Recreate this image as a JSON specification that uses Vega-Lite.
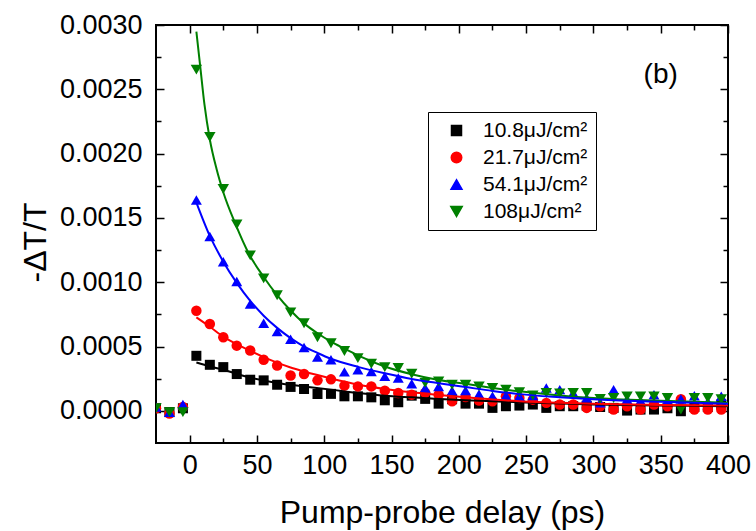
{
  "$schema": "https://vega.github.io/schema/vega-lite/v6.json",
  "width": 572,
  "height": 418,
  "autosize": {"type": "none"},
  "padding": {"left": 156, "top": 25, "right": 28, "bottom": 88},
  "background": "white",
  "config": {
    "view": {"stroke": "black", "strokeWidth": 2},
    "axis": {
      "domain": false,
      "grid": false,
      "tickColor": "black",
      "tickWidth": 1.5,
      "labelFont": "Liberation Sans",
      "labelFontSize": 27,
      "labelColor": "black",
      "labelOverlap": false,
      "labelFlush": false,
      "titleFont": "Liberation Sans",
      "titleFontSize": 32,
      "titleFontWeight": "normal",
      "titleColor": "black"
    },
    "legend": {
      "labelFont": "Liberation Sans",
      "labelFontSize": 21,
      "labelColor": "black"
    }
  },
  "datasets": {
    "pts": [
      {"s": "10.8μJ/cm²", "t": -25, "v": 0.00002}, {"s": "10.8μJ/cm²", "t": -15, "v": -0.00001}, {"s": "10.8μJ/cm²", "t": -5, "v": 0.00002},
      {"s": "10.8μJ/cm²", "t": 5, "v": 0.000428}, {"s": "10.8μJ/cm²", "t": 15, "v": 0.000358}, {"s": "10.8μJ/cm²", "t": 25, "v": 0.00034}, {"s": "10.8μJ/cm²", "t": 35, "v": 0.000286}, {"s": "10.8μJ/cm²", "t": 45, "v": 0.000242}, {"s": "10.8μJ/cm²", "t": 55, "v": 0.000237}, {"s": "10.8μJ/cm²", "t": 65, "v": 0.000203}, {"s": "10.8μJ/cm²", "t": 75, "v": 0.000186}, {"s": "10.8μJ/cm²", "t": 85, "v": 0.00017}, {"s": "10.8μJ/cm²", "t": 95, "v": 0.000131}, {"s": "10.8μJ/cm²", "t": 105, "v": 0.000132}, {"s": "10.8μJ/cm²", "t": 115, "v": 0.000113}, {"s": "10.8μJ/cm²", "t": 125, "v": 0.000113}, {"s": "10.8μJ/cm²", "t": 135, "v": 0.000105}, {"s": "10.8μJ/cm²", "t": 145, "v": 0.000082}, {"s": "10.8μJ/cm²", "t": 155, "v": 0.000067}, {"s": "10.8μJ/cm²", "t": 165, "v": 0.000118}, {"s": "10.8μJ/cm²", "t": 175, "v": 0.000093}, {"s": "10.8μJ/cm²", "t": 185, "v": 0.000056}, {"s": "10.8μJ/cm²", "t": 195, "v": 0.00009}, {"s": "10.8μJ/cm²", "t": 205, "v": 0.000056}, {"s": "10.8μJ/cm²", "t": 215, "v": 0.000056}, {"s": "10.8μJ/cm²", "t": 225, "v": 0.000023}, {"s": "10.8μJ/cm²", "t": 235, "v": 0.000036}, {"s": "10.8μJ/cm²", "t": 245, "v": 0.000041}, {"s": "10.8μJ/cm²", "t": 255, "v": 0.000049}, {"s": "10.8μJ/cm²", "t": 265, "v": 0.000023}, {"s": "10.8μJ/cm²", "t": 275, "v": 0.000036}, {"s": "10.8μJ/cm²", "t": 285, "v": 0.000036}, {"s": "10.8μJ/cm²", "t": 295, "v": 0.00004}, {"s": "10.8μJ/cm²", "t": 305, "v": 0.00003}, {"s": "10.8μJ/cm²", "t": 315, "v": 0.000023}, {"s": "10.8μJ/cm²", "t": 325, "v": 0.000002}, {"s": "10.8μJ/cm²", "t": 335, "v": 0.00001}, {"s": "10.8μJ/cm²", "t": 345, "v": 0.00001}, {"s": "10.8μJ/cm²", "t": 355, "v": 0.00002}, {"s": "10.8μJ/cm²", "t": 365, "v": -0.000003}, {"s": "10.8μJ/cm²", "t": 375, "v": 0.00003}, {"s": "10.8μJ/cm²", "t": 385, "v": 0.00003}, {"s": "10.8μJ/cm²", "t": 395, "v": 0.00005},

      {"s": "21.7μJ/cm²", "t": -25, "v": 0.00002}, {"s": "21.7μJ/cm²", "t": -15, "v": -0.00002}, {"s": "21.7μJ/cm²", "t": -5, "v": 0.00003},
      {"s": "21.7μJ/cm²", "t": 5, "v": 0.000778}, {"s": "21.7μJ/cm²", "t": 15, "v": 0.000675}, {"s": "21.7μJ/cm²", "t": 25, "v": 0.000572}, {"s": "21.7μJ/cm²", "t": 35, "v": 0.000507}, {"s": "21.7μJ/cm²", "t": 45, "v": 0.000469}, {"s": "21.7μJ/cm²", "t": 55, "v": 0.000397}, {"s": "21.7μJ/cm²", "t": 65, "v": 0.000353}, {"s": "21.7μJ/cm²", "t": 75, "v": 0.000275}, {"s": "21.7μJ/cm²", "t": 85, "v": 0.000286}, {"s": "21.7μJ/cm²", "t": 95, "v": 0.000237}, {"s": "21.7μJ/cm²", "t": 105, "v": 0.000245}, {"s": "21.7μJ/cm²", "t": 115, "v": 0.000196}, {"s": "21.7μJ/cm²", "t": 125, "v": 0.00019}, {"s": "21.7μJ/cm²", "t": 135, "v": 0.00019}, {"s": "21.7μJ/cm²", "t": 145, "v": 0.000157}, {"s": "21.7μJ/cm²", "t": 155, "v": 0.000139}, {"s": "21.7μJ/cm²", "t": 165, "v": 0.000126}, {"s": "21.7μJ/cm²", "t": 175, "v": 0.00014}, {"s": "21.7μJ/cm²", "t": 185, "v": 0.000126}, {"s": "21.7μJ/cm²", "t": 195, "v": 0.000074}, {"s": "21.7μJ/cm²", "t": 205, "v": 0.000108}, {"s": "21.7μJ/cm²", "t": 215, "v": 0.00008}, {"s": "21.7μJ/cm²", "t": 225, "v": 0.000074}, {"s": "21.7μJ/cm²", "t": 235, "v": 0.000113}, {"s": "21.7μJ/cm²", "t": 245, "v": 0.0001}, {"s": "21.7μJ/cm²", "t": 255, "v": 0.000087}, {"s": "21.7μJ/cm²", "t": 265, "v": 0.000062}, {"s": "21.7μJ/cm²", "t": 275, "v": 0.000049}, {"s": "21.7μJ/cm²", "t": 285, "v": 0.000049}, {"s": "21.7μJ/cm²", "t": 295, "v": 0.000023}, {"s": "21.7μJ/cm²", "t": 305, "v": 0.000036}, {"s": "21.7μJ/cm²", "t": 315, "v": 0.00001}, {"s": "21.7μJ/cm²", "t": 325, "v": 0.000036}, {"s": "21.7μJ/cm²", "t": 335, "v": 0.00001}, {"s": "21.7μJ/cm²", "t": 345, "v": 0.000049}, {"s": "21.7μJ/cm²", "t": 355, "v": 0.000036}, {"s": "21.7μJ/cm²", "t": 365, "v": 0.00009}, {"s": "21.7μJ/cm²", "t": 375, "v": 0.00001}, {"s": "21.7μJ/cm²", "t": 385, "v": 0.00001}, {"s": "21.7μJ/cm²", "t": 395, "v": 0.00001},

      {"s": "54.1μJ/cm²", "t": -25, "v": 0.00003}, {"s": "54.1μJ/cm²", "t": -15, "v": -0.00001}, {"s": "54.1μJ/cm²", "t": -5, "v": 0.00005},
      {"s": "54.1μJ/cm²", "t": 5, "v": 0.001640}, {"s": "54.1μJ/cm²", "t": 15, "v": 0.001356}, {"s": "54.1μJ/cm²", "t": 25, "v": 0.00116}, {"s": "54.1μJ/cm²", "t": 35, "v": 0.001005}, {"s": "54.1μJ/cm²", "t": 45, "v": 0.00083}, {"s": "54.1μJ/cm²", "t": 55, "v": 0.000681}, {"s": "54.1μJ/cm²", "t": 65, "v": 0.000616}, {"s": "54.1μJ/cm²", "t": 75, "v": 0.000557}, {"s": "54.1μJ/cm²", "t": 85, "v": 0.000492}, {"s": "54.1μJ/cm²", "t": 95, "v": 0.000418}, {"s": "54.1μJ/cm²", "t": 105, "v": 0.000397}, {"s": "54.1μJ/cm²", "t": 115, "v": 0.000303}, {"s": "54.1μJ/cm²", "t": 125, "v": 0.000319}, {"s": "54.1μJ/cm²", "t": 135, "v": 0.000306}, {"s": "54.1μJ/cm²", "t": 145, "v": 0.000268}, {"s": "54.1μJ/cm²", "t": 155, "v": 0.000255}, {"s": "54.1μJ/cm²", "t": 165, "v": 0.000211}, {"s": "54.1μJ/cm²", "t": 175, "v": 0.000178}, {"s": "54.1μJ/cm²", "t": 185, "v": 0.00019}, {"s": "54.1μJ/cm²", "t": 195, "v": 0.000157}, {"s": "54.1μJ/cm²", "t": 205, "v": 0.000159}, {"s": "54.1μJ/cm²", "t": 215, "v": 0.00013}, {"s": "54.1μJ/cm²", "t": 225, "v": 0.000113}, {"s": "54.1μJ/cm²", "t": 235, "v": 0.00012}, {"s": "54.1μJ/cm²", "t": 245, "v": 0.000113}, {"s": "54.1μJ/cm²", "t": 255, "v": 0.00012}, {"s": "54.1μJ/cm²", "t": 265, "v": 0.000178}, {"s": "54.1μJ/cm²", "t": 275, "v": 0.000165}, {"s": "54.1μJ/cm²", "t": 285, "v": 0.000139}, {"s": "54.1μJ/cm²", "t": 295, "v": 0.0001}, {"s": "54.1μJ/cm²", "t": 305, "v": 0.000062}, {"s": "54.1μJ/cm²", "t": 315, "v": 0.000165}, {"s": "54.1μJ/cm²", "t": 325, "v": 0.00009}, {"s": "54.1μJ/cm²", "t": 335, "v": 0.00008}, {"s": "54.1μJ/cm²", "t": 345, "v": 0.000126}, {"s": "54.1μJ/cm²", "t": 355, "v": 0.00008}, {"s": "54.1μJ/cm²", "t": 365, "v": 0.000093}, {"s": "54.1μJ/cm²", "t": 375, "v": 0.000118}, {"s": "54.1μJ/cm²", "t": 385, "v": 0.00007}, {"s": "54.1μJ/cm²", "t": 395, "v": 0.000113},

      {"s": "108μJ/cm²", "t": -25, "v": 0.00002}, {"s": "108μJ/cm²", "t": -15, "v": -0.00001}, {"s": "108μJ/cm²", "t": -5, "v": -0.00001},
      {"s": "108μJ/cm²", "t": 5, "v": 0.002653}, {"s": "108μJ/cm²", "t": 15, "v": 0.002129}, {"s": "108μJ/cm²", "t": 25, "v": 0.001725}, {"s": "108μJ/cm²", "t": 35, "v": 0.001449}, {"s": "108μJ/cm²", "t": 45, "v": 0.001209}, {"s": "108μJ/cm²", "t": 55, "v": 0.00103}, {"s": "108μJ/cm²", "t": 65, "v": 0.000899}, {"s": "108μJ/cm²", "t": 75, "v": 0.000766}, {"s": "108μJ/cm²", "t": 85, "v": 0.000681}, {"s": "108μJ/cm²", "t": 95, "v": 0.000572}, {"s": "108μJ/cm²", "t": 105, "v": 0.000526}, {"s": "108μJ/cm²", "t": 115, "v": 0.000465}, {"s": "108μJ/cm²", "t": 125, "v": 0.00041}, {"s": "108μJ/cm²", "t": 135, "v": 0.000366}, {"s": "108μJ/cm²", "t": 145, "v": 0.00034}, {"s": "108μJ/cm²", "t": 155, "v": 0.000333}, {"s": "108μJ/cm²", "t": 165, "v": 0.000288}, {"s": "108μJ/cm²", "t": 175, "v": 0.000217}, {"s": "108μJ/cm²", "t": 185, "v": 0.000229}, {"s": "108μJ/cm²", "t": 195, "v": 0.000203}, {"s": "108μJ/cm²", "t": 205, "v": 0.000203}, {"s": "108μJ/cm²", "t": 215, "v": 0.00019}, {"s": "108μJ/cm²", "t": 225, "v": 0.000178}, {"s": "108μJ/cm²", "t": 235, "v": 0.000165}, {"s": "108μJ/cm²", "t": 245, "v": 0.000145}, {"s": "108μJ/cm²", "t": 255, "v": 0.00012}, {"s": "108μJ/cm²", "t": 265, "v": 0.000139}, {"s": "108μJ/cm²", "t": 275, "v": 0.000135}, {"s": "108μJ/cm²", "t": 285, "v": 0.000139}, {"s": "108μJ/cm²", "t": 295, "v": 0.000139}, {"s": "108μJ/cm²", "t": 305, "v": 0.000093}, {"s": "108μJ/cm²", "t": 315, "v": 0.0001}, {"s": "108μJ/cm²", "t": 325, "v": 0.000113}, {"s": "108μJ/cm²", "t": 335, "v": 0.000113}, {"s": "108μJ/cm²", "t": 345, "v": 0.000113}, {"s": "108μJ/cm²", "t": 355, "v": 0.0001}, {"s": "108μJ/cm²", "t": 365, "v": 0.00001}, {"s": "108μJ/cm²", "t": 375, "v": 0.0001}, {"s": "108μJ/cm²", "t": 385, "v": 0.0001}, {"s": "108μJ/cm²", "t": 395, "v": 0.00009}
    ],
    "fit": [
      {"s": "10.8μJ/cm²", "t": 5, "v": 0.000376}, {"s": "10.8μJ/cm²", "t": 15, "v": 0.000345}, {"s": "10.8μJ/cm²", "t": 25, "v": 0.000319}, {"s": "10.8μJ/cm²", "t": 45, "v": 0.000258}, {"s": "10.8μJ/cm²", "t": 65, "v": 0.000217}, {"s": "10.8μJ/cm²", "t": 85, "v": 0.00019}, {"s": "10.8μJ/cm²", "t": 105, "v": 0.000165}, {"s": "10.8μJ/cm²", "t": 125, "v": 0.000139}, {"s": "10.8μJ/cm²", "t": 145, "v": 0.000118}, {"s": "10.8μJ/cm²", "t": 165, "v": 0.000105}, {"s": "10.8μJ/cm²", "t": 185, "v": 0.000093}, {"s": "10.8μJ/cm²", "t": 205, "v": 0.000082}, {"s": "10.8μJ/cm²", "t": 225, "v": 0.000074}, {"s": "10.8μJ/cm²", "t": 245, "v": 0.000067}, {"s": "10.8μJ/cm²", "t": 275, "v": 0.000057}, {"s": "10.8μJ/cm²", "t": 300, "v": 0.00005}, {"s": "10.8μJ/cm²", "t": 350, "v": 0.000042}, {"s": "10.8μJ/cm²", "t": 400, "v": 0.000036},
      {"s": "21.7μJ/cm²", "t": 5, "v": 0.000727}, {"s": "21.7μJ/cm²", "t": 15, "v": 0.000654}, {"s": "21.7μJ/cm²", "t": 25, "v": 0.000577}, {"s": "21.7μJ/cm²", "t": 35, "v": 0.000518}, {"s": "21.7μJ/cm²", "t": 45, "v": 0.000466}, {"s": "21.7μJ/cm²", "t": 55, "v": 0.000418}, {"s": "21.7μJ/cm²", "t": 65, "v": 0.000375}, {"s": "21.7μJ/cm²", "t": 75, "v": 0.000337}, {"s": "21.7μJ/cm²", "t": 85, "v": 0.000306}, {"s": "21.7μJ/cm²", "t": 95, "v": 0.000278}, {"s": "21.7μJ/cm²", "t": 105, "v": 0.000252}, {"s": "21.7μJ/cm²", "t": 125, "v": 0.000205}, {"s": "21.7μJ/cm²", "t": 145, "v": 0.00017}, {"s": "21.7μJ/cm²", "t": 165, "v": 0.000144}, {"s": "21.7μJ/cm²", "t": 185, "v": 0.000124}, {"s": "21.7μJ/cm²", "t": 205, "v": 0.000105}, {"s": "21.7μJ/cm²", "t": 225, "v": 0.000088}, {"s": "21.7μJ/cm²", "t": 245, "v": 0.000075}, {"s": "21.7μJ/cm²", "t": 275, "v": 0.000062}, {"s": "21.7μJ/cm²", "t": 300, "v": 0.000055}, {"s": "21.7μJ/cm²", "t": 350, "v": 0.000046}, {"s": "21.7μJ/cm²", "t": 400, "v": 0.000041},
      {"s": "108μJ/cm²", "t": 5, "v": 0.002949}, {"s": "108μJ/cm²", "t": 8, "v": 0.002665}, {"s": "108μJ/cm²", "t": 11, "v": 0.002382}, {"s": "108μJ/cm²", "t": 15, "v": 0.00211}, {"s": "108μJ/cm²", "t": 20, "v": 0.00188}, {"s": "108μJ/cm²", "t": 25, "v": 0.0017}, {"s": "108μJ/cm²", "t": 34, "v": 0.001454}, {"s": "108μJ/cm²", "t": 44, "v": 0.001222}, {"s": "108μJ/cm²", "t": 55, "v": 0.001041}, {"s": "108μJ/cm²", "t": 65, "v": 0.0009}, {"s": "108μJ/cm²", "t": 75, "v": 0.00078}, {"s": "108μJ/cm²", "t": 85, "v": 0.00068}, {"s": "108μJ/cm²", "t": 95, "v": 0.000603}, {"s": "108μJ/cm²", "t": 105, "v": 0.000538}, {"s": "108μJ/cm²", "t": 115, "v": 0.000484}, {"s": "108μJ/cm²", "t": 125, "v": 0.000432}, {"s": "108μJ/cm²", "t": 145, "v": 0.000345}, {"s": "108μJ/cm²", "t": 165, "v": 0.000285}, {"s": "108μJ/cm²", "t": 185, "v": 0.00024}, {"s": "108μJ/cm²", "t": 205, "v": 0.00021}, {"s": "108μJ/cm²", "t": 225, "v": 0.000178}, {"s": "108μJ/cm²", "t": 245, "v": 0.000152}, {"s": "108μJ/cm²", "t": 275, "v": 0.00012}, {"s": "108μJ/cm²", "t": 300, "v": 0.0001}, {"s": "108μJ/cm²", "t": 350, "v": 0.000078}, {"s": "108μJ/cm²", "t": 400, "v": 0.000062},
      {"s": "54.1μJ/cm²", "t": 5, "v": 0.00162}, {"s": "54.1μJ/cm²", "t": 15, "v": 0.00136}, {"s": "54.1μJ/cm²", "t": 25, "v": 0.00116}, {"s": "54.1μJ/cm²", "t": 35, "v": 0.000995}, {"s": "54.1μJ/cm²", "t": 45, "v": 0.000855}, {"s": "54.1μJ/cm²", "t": 55, "v": 0.00074}, {"s": "54.1μJ/cm²", "t": 65, "v": 0.000645}, {"s": "54.1μJ/cm²", "t": 75, "v": 0.000565}, {"s": "54.1μJ/cm²", "t": 85, "v": 0.0005}, {"s": "54.1μJ/cm²", "t": 95, "v": 0.00045}, {"s": "54.1μJ/cm²", "t": 105, "v": 0.000405}, {"s": "54.1μJ/cm²", "t": 125, "v": 0.000342}, {"s": "54.1μJ/cm²", "t": 145, "v": 0.000292}, {"s": "54.1μJ/cm²", "t": 165, "v": 0.000248}, {"s": "54.1μJ/cm²", "t": 185, "v": 0.000215}, {"s": "54.1μJ/cm²", "t": 205, "v": 0.000185}, {"s": "54.1μJ/cm²", "t": 225, "v": 0.000155}, {"s": "54.1μJ/cm²", "t": 245, "v": 0.00013}, {"s": "54.1μJ/cm²", "t": 275, "v": 0.000106}, {"s": "54.1μJ/cm²", "t": 300, "v": 0.00009}, {"s": "54.1μJ/cm²", "t": 350, "v": 0.000071}, {"s": "54.1μJ/cm²", "t": 400, "v": 0.000055}
    ],
    "note": [{"t": 350, "v": 0.00261, "label": "(b)"}]
  },
  "resolve": {"axis": {"x": "independent", "y": "independent"}},
  "layer": [
    {
      "data": {"name": "pts"},
      "mark": {"type": "point", "filled": true, "opacity": 1, "clip": true},
      "encoding": {
        "x": {"field": "t", "type": "quantitative", "scale": {"domain": [-25, 400], "nice": false, "zero": false},
          "axis": {"orient": "bottom", "values": [0, 50, 100, 150, 200, 250, 300, 350, 400], "tickSize": -8, "labelPadding": 17, "title": "Pump-probe delay (ps)", "titleBaseline": "alphabetic", "titleY": 79}},
        "y": {"field": "v", "type": "quantitative", "scale": {"domain": [-0.00025, 0.003], "nice": false, "zero": false},
          "axis": {"orient": "left", "values": [0, 0.0005, 0.001, 0.0015, 0.002, 0.0025, 0.003], "format": ".4f", "tickSize": -8, "labelPadding": 22, "title": "-ΔT/T", "titleBaseline": "alphabetic", "titleX": -111, "titleY": 217, "titleAlign": "center"}},
        "color": {"field": "s", "type": "nominal",
          "scale": {"domain": ["10.8μJ/cm²", "21.7μJ/cm²", "54.1μJ/cm²", "108μJ/cm²"], "range": ["#000000", "#ff0000", "#0000ff", "#008000"]},
          "legend": {"title": null, "orient": "none", "legendX": 272, "legendY": 87, "strokeColor": "black", "padding": 8, "fillColor": "white", "rowPadding": 5, "symbolOffset": 10, "labelOffset": 16}},
        "shape": {"field": "s", "type": "nominal",
          "scale": {"domain": ["10.8μJ/cm²", "21.7μJ/cm²", "54.1μJ/cm²", "108μJ/cm²"], "range": ["square", "circle", "triangle-up", "triangle-down"]},
          "legend": {"title": null}},
        "size": {"field": "s", "type": "nominal",
          "scale": {"domain": ["10.8μJ/cm²", "21.7μJ/cm²", "54.1μJ/cm²", "108μJ/cm²"], "range": [100, 130, 180, 180]},
          "legend": {"title": null}}
      }
    },
    {
      "data": {"name": "fit"},
      "mark": {"type": "line", "strokeWidth": 2, "interpolate": "monotone", "clip": true},
      "encoding": {
        "x": {"field": "t", "type": "quantitative",
          "axis": {"orient": "bottom", "values": [25, 75, 125, 175, 225, 275, 325, 375], "tickSize": -5, "labels": false, "title": null}},
        "y": {"field": "v", "type": "quantitative",
          "axis": {"orient": "left", "values": [0.00025, 0.00075, 0.00125, 0.00175, 0.00225, 0.00275], "tickSize": -5, "labels": false, "title": null}},
        "detail": {"field": "s", "type": "nominal"},
        "stroke": {"field": "s", "type": "nominal",
          "scale": {"domain": ["10.8μJ/cm²", "21.7μJ/cm²", "54.1μJ/cm²", "108μJ/cm²"], "range": ["#000000", "#ff0000", "#0000ff", "#008000"]},
          "legend": null}
      }
    },
    {
      "data": {"name": "note"},
      "mark": {"type": "text", "font": "Liberation Sans", "fontSize": 28, "color": "black", "align": "center", "baseline": "middle"},
      "encoding": {
        "x": {"field": "t", "type": "quantitative",
          "axis": {"orient": "top", "values": [0, 50, 100, 150, 200, 250, 300, 350, 400], "tickSize": -8, "labels": false, "title": null}},
        "y": {"field": "v", "type": "quantitative",
          "axis": {"orient": "right", "values": [0, 0.0005, 0.001, 0.0015, 0.002, 0.0025, 0.003], "tickSize": -8, "labels": false, "title": null}},
        "text": {"field": "label"}
      }
    },
    {
      "data": {"name": "note"},
      "mark": {"type": "text", "opacity": 0},
      "encoding": {
        "x": {"field": "t", "type": "quantitative",
          "axis": {"orient": "top", "values": [25, 75, 125, 175, 225, 275, 325, 375], "tickSize": -5, "labels": false, "title": null}},
        "y": {"field": "v", "type": "quantitative",
          "axis": {"orient": "right", "values": [0.00025, 0.00075, 0.00125, 0.00175, 0.00225, 0.00275], "tickSize": -5, "labels": false, "title": null}},
        "text": {"field": "label"}
      }
    }
  ]
}
